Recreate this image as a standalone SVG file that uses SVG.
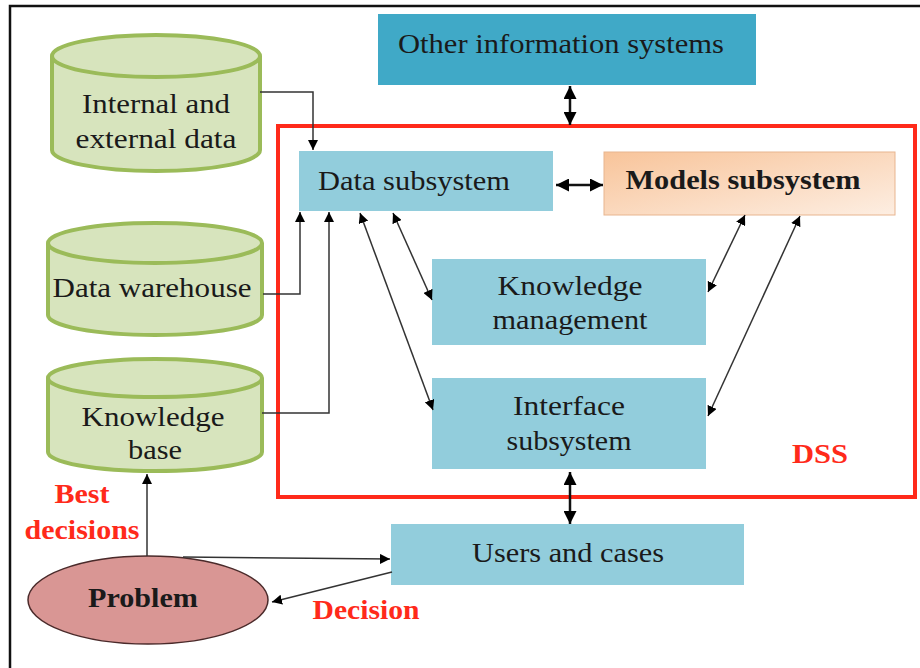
<svg xmlns="http://www.w3.org/2000/svg" width="920" height="668" viewBox="0 0 920 668">
<style>
.t{font-family:"Liberation Serif","Times New Roman",serif;font-size:28px;fill:#1a1a1a;text-anchor:middle}
.b{font-weight:bold}
.r{fill:#ff2a1a;font-weight:bold;font-size:27px}
.box{fill:#92cddc}
.cyl{fill:#d7e4bd;stroke:#9bbb59;stroke-width:4}
.c{fill:none;stroke:#333;stroke-width:1.5}
.d{fill:none;stroke:#111;stroke-width:2.5}
</style>
<defs>
<marker id="ah" viewBox="0 0 10 10" refX="10" refY="5" markerWidth="10" markerHeight="10" markerUnits="userSpaceOnUse" orient="auto-start-reverse">
<path d="M0,0 L10,5 L0,10 z" fill="#000"/>
</marker>
<marker id="ahb" viewBox="0 0 10 10" refX="10" refY="5" markerWidth="13" markerHeight="13" markerUnits="userSpaceOnUse" orient="auto-start-reverse">
<path d="M0,0 L10,5 L0,10 z" fill="#000"/>
</marker>
<linearGradient id="og" x1="0" y1="0" x2="1" y2="1">
<stop offset="0" stop-color="#f8c49a"/>
<stop offset="1" stop-color="#fdeee2"/>
</linearGradient>
</defs>
<rect x="0" y="0" width="920" height="668" fill="#fff"/>
<rect x="10" y="6" width="930" height="720" fill="none" stroke="#111" stroke-width="2.5"/>

<g id="dss">
<rect x="278" y="126" width="637" height="371" fill="none" stroke="#ff2a1a" stroke-width="4"/>
<text class="t r" x="820" y="463" textLength="56" lengthAdjust="spacingAndGlyphs">DSS</text>
</g>

<g id="other-info">
<rect x="378" y="14" width="378" height="71" fill="#40a9c7"/>
<text class="t" x="561" y="53" textLength="326" lengthAdjust="spacingAndGlyphs">Other information systems</text>
</g>

<g id="data-subsystem">
<rect class="box" x="299" y="151" width="254" height="60"/>
<text class="t" x="414" y="190" textLength="192" lengthAdjust="spacingAndGlyphs">Data subsystem</text>
</g>

<g id="models-subsystem">
<rect x="604" y="152" width="291" height="63" fill="url(#og)" stroke="#e8b58f" stroke-width="1"/>
<text class="t b" x="743" y="189" textLength="235" lengthAdjust="spacingAndGlyphs">Models subsystem</text>
</g>

<g id="knowledge-management">
<rect class="box" x="432" y="259" width="274" height="86"/>
<text class="t" x="570" y="295" textLength="145" lengthAdjust="spacingAndGlyphs">Knowledge</text>
<text class="t" x="570" y="329" textLength="155" lengthAdjust="spacingAndGlyphs">management</text>
</g>

<g id="interface-subsystem">
<rect class="box" x="432" y="378" width="274" height="91"/>
<text class="t" x="569" y="415" textLength="112" lengthAdjust="spacingAndGlyphs">Interface</text>
<text class="t" x="569" y="450" textLength="125" lengthAdjust="spacingAndGlyphs">subsystem</text>
</g>

<g id="users-cases">
<rect class="box" x="391" y="524" width="353" height="61"/>
<text class="t" x="568" y="562" textLength="192" lengthAdjust="spacingAndGlyphs">Users and cases</text>
</g>

<g id="internal-external-data">
<path class="cyl" d="M52,56 L52,150 A104,21 0 0 0 260,150 L260,56"/>
<ellipse class="cyl" cx="156" cy="56" rx="104" ry="21"/>
<text class="t" x="156" y="113" textLength="148" lengthAdjust="spacingAndGlyphs">Internal and</text>
<text class="t" x="156" y="148" textLength="161" lengthAdjust="spacingAndGlyphs">external data</text>
</g>

<g id="data-warehouse">
<path class="cyl" d="M48,243 L48,315 A107,20 0 0 0 262,315 L262,243"/>
<ellipse class="cyl" cx="155" cy="243" rx="107" ry="20"/>
<text class="t" x="152" y="297" textLength="199" lengthAdjust="spacingAndGlyphs">Data warehouse</text>
</g>

<g id="knowledge-base">
<path class="cyl" d="M48,378 L48,452 A107,19 0 0 0 262,452 L262,378"/>
<ellipse class="cyl" cx="155" cy="378" rx="107" ry="19"/>
<text class="t" x="153" y="426" textLength="143" lengthAdjust="spacingAndGlyphs">Knowledge</text>
<text class="t" x="155" y="459" textLength="54" lengthAdjust="spacingAndGlyphs">base</text>
</g>

<g id="problem">
<ellipse cx="148" cy="600" rx="120" ry="44" fill="#d99694" stroke="#4a2a2a" stroke-width="1.5"/>
<text class="t b" x="143" y="607" textLength="110" lengthAdjust="spacingAndGlyphs">Problem</text>
</g>

<g id="labels">
<text class="t r" x="82" y="503" textLength="55" lengthAdjust="spacingAndGlyphs">Best</text>
<text class="t r" x="82" y="539" textLength="115" lengthAdjust="spacingAndGlyphs">decisions</text>
<text class="t r" x="366" y="619" textLength="107" lengthAdjust="spacingAndGlyphs">Decision</text>
</g>

<g id="connectors">
<path class="c" d="M260,92 H313 V150" marker-end="url(#ah)"/>
<path class="c" d="M263,294 H300 V212" marker-end="url(#ah)"/>
<path class="c" d="M262,413 H329 V212" marker-end="url(#ah)"/>
<path class="c" d="M360,213 L433,410" marker-start="url(#ah)" marker-end="url(#ah)"/>
<path class="c" d="M393,213 L432,300" marker-start="url(#ah)" marker-end="url(#ah)"/>
<path class="c" d="M745,215 L708,292" marker-start="url(#ah)" marker-end="url(#ah)"/>
<path class="c" d="M800,216 L708,416" marker-start="url(#ah)" marker-end="url(#ah)"/>
<path class="d" d="M556,185 H603" marker-start="url(#ahb)" marker-end="url(#ahb)"/>
<path class="d" d="M570,86 V125" marker-start="url(#ahb)" marker-end="url(#ahb)"/>
<path class="d" d="M570,472 V524" marker-start="url(#ahb)" marker-end="url(#ahb)"/>
<path class="c" d="M147,556 V474" marker-end="url(#ah)"/>
<path class="c" d="M183,557 L390,559" marker-end="url(#ah)"/>
<path class="c" d="M392,572 L272,602" marker-end="url(#ah)"/>
</g>
</svg>
